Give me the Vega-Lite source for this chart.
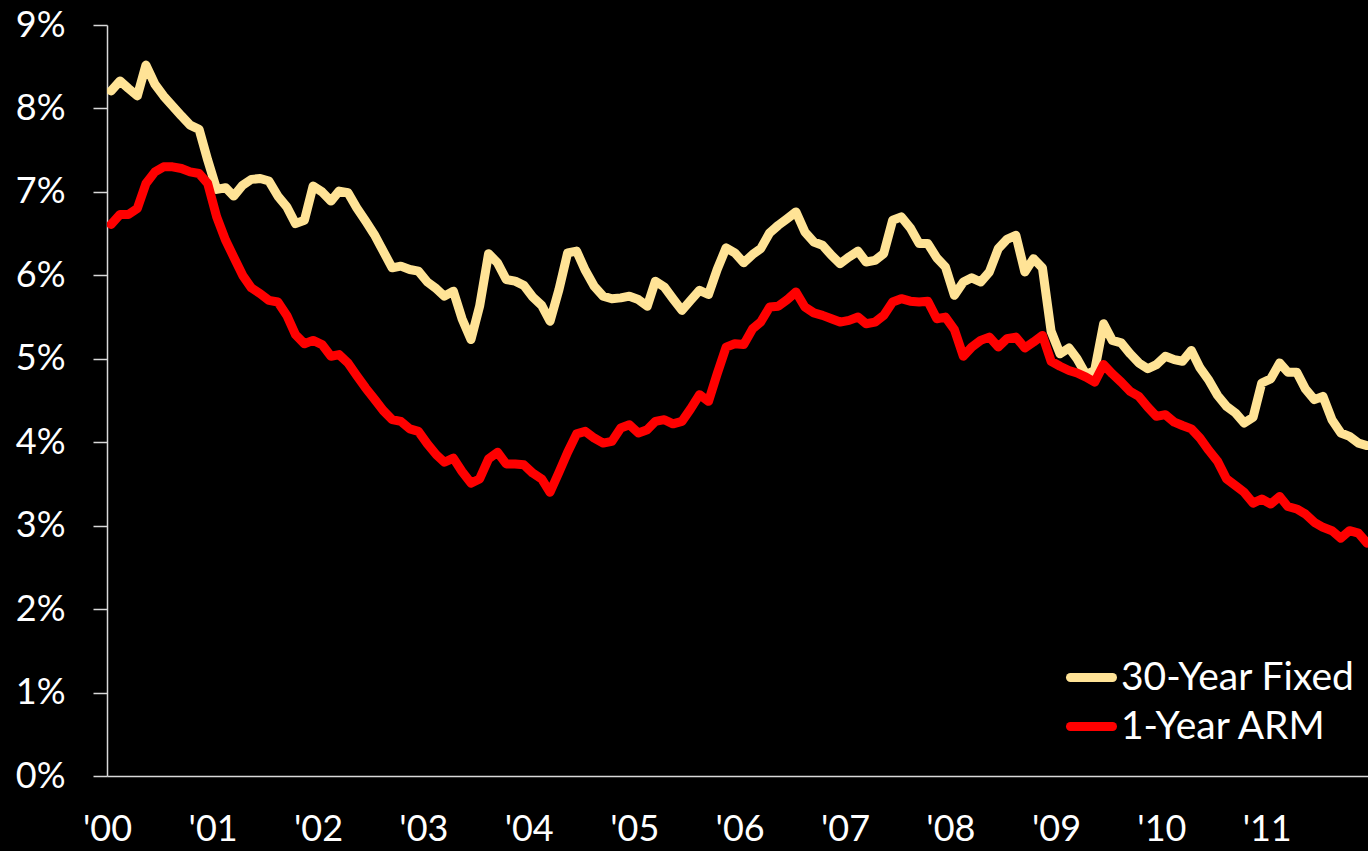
{
"$schema": "https://vega.github.io/schema/vega-lite/v6.json",
"width": 1261, "height": 751,
"autosize": {"type": "none"},
"padding": {"left": 107, "top": 25, "right": 0, "bottom": 75},
"background": "#000000",
"config": {"view": {"stroke": null}, "font": "Lato"},
"datasets": {
"fixed": [
{"date":"2000-01-15","rate":8.21},{"date":"2000-02-15","rate":8.33},{"date":"2000-03-15","rate":8.24},{"date":"2000-04-15","rate":8.15},{"date":"2000-05-15","rate":8.52},{"date":"2000-06-15","rate":8.29},{"date":"2000-07-15","rate":8.15},{"date":"2000-08-15","rate":8.03},{"date":"2000-09-15","rate":7.91},{"date":"2000-10-15","rate":7.80},{"date":"2000-11-15","rate":7.75},{"date":"2000-12-15","rate":7.38},
{"date":"2001-01-15","rate":7.03},{"date":"2001-02-15","rate":7.05},{"date":"2001-03-15","rate":6.95},{"date":"2001-04-15","rate":7.08},{"date":"2001-05-15","rate":7.15},{"date":"2001-06-15","rate":7.16},{"date":"2001-07-15","rate":7.13},{"date":"2001-08-15","rate":6.95},{"date":"2001-09-15","rate":6.82},{"date":"2001-10-15","rate":6.62},{"date":"2001-11-15","rate":6.66},{"date":"2001-12-15","rate":7.07},
{"date":"2002-01-15","rate":7.00},{"date":"2002-02-15","rate":6.89},{"date":"2002-03-15","rate":7.01},{"date":"2002-04-15","rate":6.99},{"date":"2002-05-15","rate":6.81},{"date":"2002-06-15","rate":6.65},{"date":"2002-07-15","rate":6.49},{"date":"2002-08-15","rate":6.29},{"date":"2002-09-15","rate":6.09},{"date":"2002-10-15","rate":6.11},{"date":"2002-11-15","rate":6.07},{"date":"2002-12-15","rate":6.05},
{"date":"2003-01-15","rate":5.92},{"date":"2003-02-15","rate":5.84},{"date":"2003-03-15","rate":5.75},{"date":"2003-04-15","rate":5.81},{"date":"2003-05-15","rate":5.48},{"date":"2003-06-15","rate":5.23},{"date":"2003-07-15","rate":5.63},{"date":"2003-08-15","rate":6.26},{"date":"2003-09-15","rate":6.15},{"date":"2003-10-15","rate":5.95},{"date":"2003-11-15","rate":5.93},{"date":"2003-12-15","rate":5.88},
{"date":"2004-01-15","rate":5.74},{"date":"2004-02-15","rate":5.64},{"date":"2004-03-15","rate":5.45},{"date":"2004-04-15","rate":5.83},{"date":"2004-05-15","rate":6.27},{"date":"2004-06-15","rate":6.29},{"date":"2004-07-15","rate":6.06},{"date":"2004-08-15","rate":5.87},{"date":"2004-09-15","rate":5.75},{"date":"2004-10-15","rate":5.72},{"date":"2004-11-15","rate":5.73},{"date":"2004-12-15","rate":5.75},
{"date":"2005-01-15","rate":5.71},{"date":"2005-02-15","rate":5.63},{"date":"2005-03-15","rate":5.93},{"date":"2005-04-15","rate":5.86},{"date":"2005-05-15","rate":5.72},{"date":"2005-06-15","rate":5.58},{"date":"2005-07-15","rate":5.70},{"date":"2005-08-15","rate":5.82},{"date":"2005-09-15","rate":5.77},{"date":"2005-10-15","rate":6.07},{"date":"2005-11-15","rate":6.33},{"date":"2005-12-15","rate":6.27},
{"date":"2006-01-15","rate":6.15},{"date":"2006-02-15","rate":6.25},{"date":"2006-03-15","rate":6.32},{"date":"2006-04-15","rate":6.51},{"date":"2006-05-15","rate":6.60},{"date":"2006-06-15","rate":6.68},{"date":"2006-07-15","rate":6.76},{"date":"2006-08-15","rate":6.52},{"date":"2006-09-15","rate":6.40},{"date":"2006-10-15","rate":6.36},{"date":"2006-11-15","rate":6.24},{"date":"2006-12-15","rate":6.14},
{"date":"2007-01-15","rate":6.22},{"date":"2007-02-15","rate":6.29},{"date":"2007-03-15","rate":6.16},{"date":"2007-04-15","rate":6.18},{"date":"2007-05-15","rate":6.26},{"date":"2007-06-15","rate":6.66},{"date":"2007-07-15","rate":6.70},{"date":"2007-08-15","rate":6.57},{"date":"2007-09-15","rate":6.38},{"date":"2007-10-15","rate":6.38},{"date":"2007-11-15","rate":6.21},{"date":"2007-12-15","rate":6.10},
{"date":"2008-01-15","rate":5.76},{"date":"2008-02-15","rate":5.92},{"date":"2008-03-15","rate":5.97},{"date":"2008-04-15","rate":5.92},{"date":"2008-05-15","rate":6.04},{"date":"2008-06-15","rate":6.32},{"date":"2008-07-15","rate":6.43},{"date":"2008-08-15","rate":6.48},{"date":"2008-09-15","rate":6.04},{"date":"2008-10-15","rate":6.20},{"date":"2008-11-15","rate":6.09},{"date":"2008-12-15","rate":5.33},
{"date":"2009-01-15","rate":5.06},{"date":"2009-02-15","rate":5.13},{"date":"2009-03-15","rate":5.00},{"date":"2009-04-15","rate":4.81},{"date":"2009-05-15","rate":4.86},{"date":"2009-06-15","rate":5.42},{"date":"2009-07-15","rate":5.22},{"date":"2009-08-15","rate":5.19},{"date":"2009-09-15","rate":5.06},{"date":"2009-10-15","rate":4.95},{"date":"2009-11-15","rate":4.88},{"date":"2009-12-15","rate":4.93},
{"date":"2010-01-15","rate":5.03},{"date":"2010-02-15","rate":4.99},{"date":"2010-03-15","rate":4.97},{"date":"2010-04-15","rate":5.10},{"date":"2010-05-15","rate":4.89},{"date":"2010-06-15","rate":4.74},{"date":"2010-07-15","rate":4.56},{"date":"2010-08-15","rate":4.43},{"date":"2010-09-15","rate":4.35},{"date":"2010-10-15","rate":4.23},{"date":"2010-11-15","rate":4.30},{"date":"2010-12-15","rate":4.71},
{"date":"2011-01-15","rate":4.76},{"date":"2011-02-15","rate":4.95},{"date":"2011-03-15","rate":4.84},{"date":"2011-04-15","rate":4.84},{"date":"2011-05-15","rate":4.64},{"date":"2011-06-15","rate":4.51},{"date":"2011-07-15","rate":4.55},{"date":"2011-08-15","rate":4.27},{"date":"2011-09-15","rate":4.11},{"date":"2011-10-15","rate":4.07},{"date":"2011-11-15","rate":3.99},{"date":"2011-12-15","rate":3.96}
],
"arm": [
{"date":"2000-01-15","rate":6.61},{"date":"2000-02-15","rate":6.73},{"date":"2000-03-15","rate":6.73},{"date":"2000-04-15","rate":6.80},{"date":"2000-05-15","rate":7.10},{"date":"2000-06-15","rate":7.24},{"date":"2000-07-15","rate":7.30},{"date":"2000-08-15","rate":7.30},{"date":"2000-09-15","rate":7.28},{"date":"2000-10-15","rate":7.24},{"date":"2000-11-15","rate":7.22},{"date":"2000-12-15","rate":7.10},
{"date":"2001-01-15","rate":6.70},{"date":"2001-02-15","rate":6.42},{"date":"2001-03-15","rate":6.22},{"date":"2001-04-15","rate":6.00},{"date":"2001-05-15","rate":5.85},{"date":"2001-06-15","rate":5.78},{"date":"2001-07-15","rate":5.70},{"date":"2001-08-15","rate":5.68},{"date":"2001-09-15","rate":5.52},{"date":"2001-10-15","rate":5.29},{"date":"2001-11-15","rate":5.18},{"date":"2001-12-15","rate":5.22},
{"date":"2002-01-15","rate":5.17},{"date":"2002-02-15","rate":5.03},{"date":"2002-03-15","rate":5.05},{"date":"2002-04-15","rate":4.95},{"date":"2002-05-15","rate":4.80},{"date":"2002-06-15","rate":4.65},{"date":"2002-07-15","rate":4.52},{"date":"2002-08-15","rate":4.38},{"date":"2002-09-15","rate":4.27},{"date":"2002-10-15","rate":4.25},{"date":"2002-11-15","rate":4.16},{"date":"2002-12-15","rate":4.13},
{"date":"2003-01-15","rate":3.98},{"date":"2003-02-15","rate":3.85},{"date":"2003-03-15","rate":3.76},{"date":"2003-04-15","rate":3.81},{"date":"2003-05-15","rate":3.65},{"date":"2003-06-15","rate":3.51},{"date":"2003-07-15","rate":3.56},{"date":"2003-08-15","rate":3.80},{"date":"2003-09-15","rate":3.88},{"date":"2003-10-15","rate":3.74},{"date":"2003-11-15","rate":3.74},{"date":"2003-12-15","rate":3.73},
{"date":"2004-01-15","rate":3.63},{"date":"2004-02-15","rate":3.56},{"date":"2004-03-15","rate":3.40},{"date":"2004-04-15","rate":3.64},{"date":"2004-05-15","rate":3.88},{"date":"2004-06-15","rate":4.10},{"date":"2004-07-15","rate":4.13},{"date":"2004-08-15","rate":4.05},{"date":"2004-09-15","rate":3.99},{"date":"2004-10-15","rate":4.01},{"date":"2004-11-15","rate":4.17},{"date":"2004-12-15","rate":4.21},
{"date":"2005-01-15","rate":4.11},{"date":"2005-02-15","rate":4.15},{"date":"2005-03-15","rate":4.25},{"date":"2005-04-15","rate":4.27},{"date":"2005-05-15","rate":4.22},{"date":"2005-06-15","rate":4.25},{"date":"2005-07-15","rate":4.40},{"date":"2005-08-15","rate":4.57},{"date":"2005-09-15","rate":4.49},{"date":"2005-10-15","rate":4.82},{"date":"2005-11-15","rate":5.14},{"date":"2005-12-15","rate":5.18},
{"date":"2006-01-15","rate":5.17},{"date":"2006-02-15","rate":5.36},{"date":"2006-03-15","rate":5.44},{"date":"2006-04-15","rate":5.62},{"date":"2006-05-15","rate":5.63},{"date":"2006-06-15","rate":5.71},{"date":"2006-07-15","rate":5.80},{"date":"2006-08-15","rate":5.62},{"date":"2006-09-15","rate":5.55},{"date":"2006-10-15","rate":5.52},{"date":"2006-11-15","rate":5.48},{"date":"2006-12-15","rate":5.44},
{"date":"2007-01-15","rate":5.46},{"date":"2007-02-15","rate":5.50},{"date":"2007-03-15","rate":5.42},{"date":"2007-04-15","rate":5.44},{"date":"2007-05-15","rate":5.52},{"date":"2007-06-15","rate":5.68},{"date":"2007-07-15","rate":5.72},{"date":"2007-08-15","rate":5.69},{"date":"2007-09-15","rate":5.68},{"date":"2007-10-15","rate":5.69},{"date":"2007-11-15","rate":5.48},{"date":"2007-12-15","rate":5.50},
{"date":"2008-01-15","rate":5.35},{"date":"2008-02-15","rate":5.03},{"date":"2008-03-15","rate":5.14},{"date":"2008-04-15","rate":5.22},{"date":"2008-05-15","rate":5.26},{"date":"2008-06-15","rate":5.14},{"date":"2008-07-15","rate":5.24},{"date":"2008-08-15","rate":5.26},{"date":"2008-09-15","rate":5.13},{"date":"2008-10-15","rate":5.20},{"date":"2008-11-15","rate":5.28},{"date":"2008-12-15","rate":4.97},
{"date":"2009-01-15","rate":4.91},{"date":"2009-02-15","rate":4.86},{"date":"2009-03-15","rate":4.83},{"date":"2009-04-15","rate":4.78},{"date":"2009-05-15","rate":4.72},{"date":"2009-06-15","rate":4.93},{"date":"2009-07-15","rate":4.82},{"date":"2009-08-15","rate":4.72},{"date":"2009-09-15","rate":4.61},{"date":"2009-10-15","rate":4.55},{"date":"2009-11-15","rate":4.42},{"date":"2009-12-15","rate":4.31},
{"date":"2010-01-15","rate":4.33},{"date":"2010-02-15","rate":4.24},{"date":"2010-03-15","rate":4.20},{"date":"2010-04-15","rate":4.16},{"date":"2010-05-15","rate":4.05},{"date":"2010-06-15","rate":3.90},{"date":"2010-07-15","rate":3.77},{"date":"2010-08-15","rate":3.56},{"date":"2010-09-15","rate":3.48},{"date":"2010-10-15","rate":3.40},{"date":"2010-11-15","rate":3.27},{"date":"2010-12-15","rate":3.32},
{"date":"2011-01-15","rate":3.26},{"date":"2011-02-15","rate":3.35},{"date":"2011-03-15","rate":3.23},{"date":"2011-04-15","rate":3.20},{"date":"2011-05-15","rate":3.14},{"date":"2011-06-15","rate":3.04},{"date":"2011-07-15","rate":2.98},{"date":"2011-08-15","rate":2.94},{"date":"2011-09-15","rate":2.85},{"date":"2011-10-15","rate":2.94},{"date":"2011-11-15","rate":2.91},{"date":"2011-12-15","rate":2.79}
]
},
"encoding": {
"x": {"field": "date", "type": "temporal",
 "scale": {"type": "utc", "domain": [{"year": 2000, "month": 1, "date": 1, "utc": true}, {"year": 2011, "month": 12, "date": 18, "utc": true}]},
 "axis": {"title": null, "format": "'%y", "tickCount": {"interval": "year", "step": 1}, "ticks": false, "grid": false,
  "domainColor": "#D9D9D9", "domainWidth": 1.5, "labelColor": "#FFFFFF", "labelFont": "Lato", "labelFontSize": 36,
  "labelPadding": 36, "labelFlush": false, "labelOverlap": false}},
"y": {"field": "rate", "type": "quantitative", "scale": {"domain": [0, 9]},
 "axis": {"title": null, "values": [0,1,2,3,4,5,6,7,8,9], "labelExpr": "datum.value + '%'", "grid": false,
  "domainColor": "#D9D9D9", "domainWidth": 1.5, "tickColor": "#D9D9D9", "tickWidth": 1.5, "tickSize": 14,
  "labelColor": "#FFFFFF", "labelFont": "Lato", "labelFontSize": 36, "labelPadding": 28}}
},
"layer": [
{"data": {"name": "fixed"},
 "mark": {"type": "line", "strokeWidth": 9, "strokeJoin": "round", "strokeCap": "round", "clip": true},
 "encoding": {"color": {"datum": "30-Year Fixed", "type": "nominal",
   "scale": {"domain": ["30-Year Fixed", "1-Year ARM"], "range": ["#FFE396", "#FF0000"]},
   "legend": {"title": null, "orient": "none", "legendX": 959, "legendY": 627, "padding": 0,
     "labelFont": "Lato", "labelFontSize": 39, "labelColor": "#FFFFFF", "labelLimit": 1000,
     "symbolType": "stroke", "symbolSize": 1764, "symbolStrokeWidth": 9, "labelOffset": 4, "rowPadding": 3,
     "encode": {"symbols": {"update": {"strokeCap": {"value": "round"}}}}}}}},
{"data": {"name": "arm"},
 "mark": {"type": "line", "strokeWidth": 9, "strokeJoin": "round", "strokeCap": "round", "clip": true},
 "encoding": {"color": {"datum": "1-Year ARM", "type": "nominal"}}}
]
}
